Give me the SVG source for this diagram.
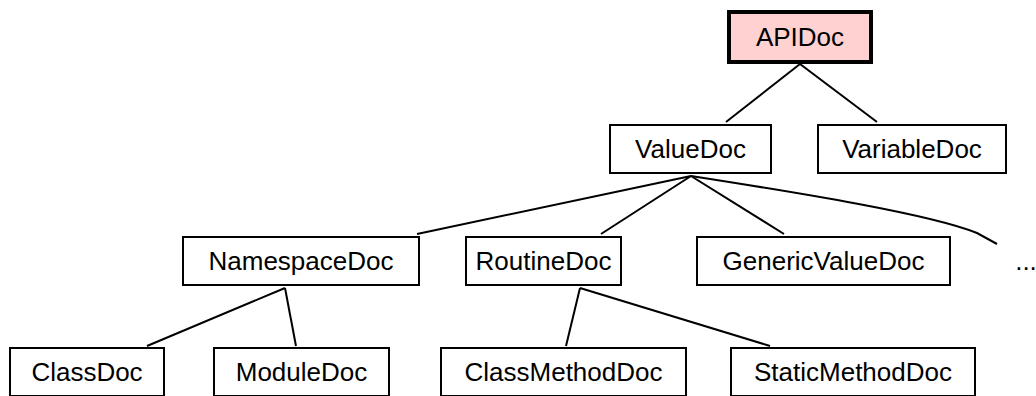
<svg xmlns="http://www.w3.org/2000/svg" width="1036" height="396" viewBox="0 0 1036 396">
  <style>
    .box { fill: #ffffff; stroke: #000000; stroke-width: 2; }
    .root { fill: #ffd1d1; stroke: #000000; stroke-width: 4; }
    .label { font-family: "Liberation Sans", Arial, sans-serif; font-size: 26px; fill: #000000; text-anchor: middle; }
    .edge { fill: none; stroke: #000000; stroke-width: 2; }
  </style>
  <rect width="1036" height="396" fill="#ffffff"/>

  <!-- class hierarchy edges -->
  <g id="edges">
    <line class="edge" x1="800" y1="64" x2="726" y2="122"/>
    <line class="edge" x1="800" y1="64" x2="877" y2="122"/>
    <line class="edge" x1="691" y1="176" x2="417" y2="234"/>
    <line class="edge" x1="691" y1="176" x2="601" y2="234"/>
    <line class="edge" x1="691" y1="176" x2="784" y2="234"/>
    <path class="edge" d="M691,176 C800,193 930,214 977,233 L997,244"/>
    <line class="edge" x1="285" y1="288" x2="147" y2="346"/>
    <line class="edge" x1="285" y1="288" x2="296" y2="346"/>
    <line class="edge" x1="580" y1="288" x2="566" y2="346"/>
    <line class="edge" x1="580" y1="288" x2="770" y2="346"/>
  </g>

  <g id="APIDoc">
    <rect class="root" x="729" y="12" width="142" height="50"/>
    <text class="label" x="800" y="46">APIDoc</text>
  </g>
  <g id="ValueDoc">
    <rect class="box" x="610" y="125" width="161" height="48"/>
    <text class="label" x="690.5" y="158">ValueDoc</text>
  </g>
  <g id="VariableDoc">
    <rect class="box" x="818" y="125" width="188" height="48"/>
    <text class="label" x="912" y="158">VariableDoc</text>
  </g>
  <g id="NamespaceDoc">
    <rect class="box" x="183" y="237" width="236" height="48"/>
    <text class="label" x="301" y="270">NamespaceDoc</text>
  </g>
  <g id="RoutineDoc">
    <rect class="box" x="466" y="237" width="155" height="48"/>
    <text class="label" x="543.5" y="270">RoutineDoc</text>
  </g>
  <g id="GenericValueDoc">
    <rect class="box" x="697" y="237" width="253" height="48"/>
    <text class="label" x="823.5" y="270">GenericValueDoc</text>
  </g>
  <g id="more">
    <text class="label" x="1026" y="270">...</text>
  </g>
  <g id="ClassDoc">
    <rect class="box" x="10" y="348" width="154" height="48"/>
    <text class="label" x="87" y="381">ClassDoc</text>
  </g>
  <g id="ModuleDoc">
    <rect class="box" x="214" y="348" width="175" height="48"/>
    <text class="label" x="301.5" y="381">ModuleDoc</text>
  </g>
  <g id="ClassMethodDoc">
    <rect class="box" x="441" y="348" width="245" height="48"/>
    <text class="label" x="563.5" y="381">ClassMethodDoc</text>
  </g>
  <g id="StaticMethodDoc">
    <rect class="box" x="731" y="348" width="244" height="48"/>
    <text class="label" x="853" y="381">StaticMethodDoc</text>
  </g>
</svg>
